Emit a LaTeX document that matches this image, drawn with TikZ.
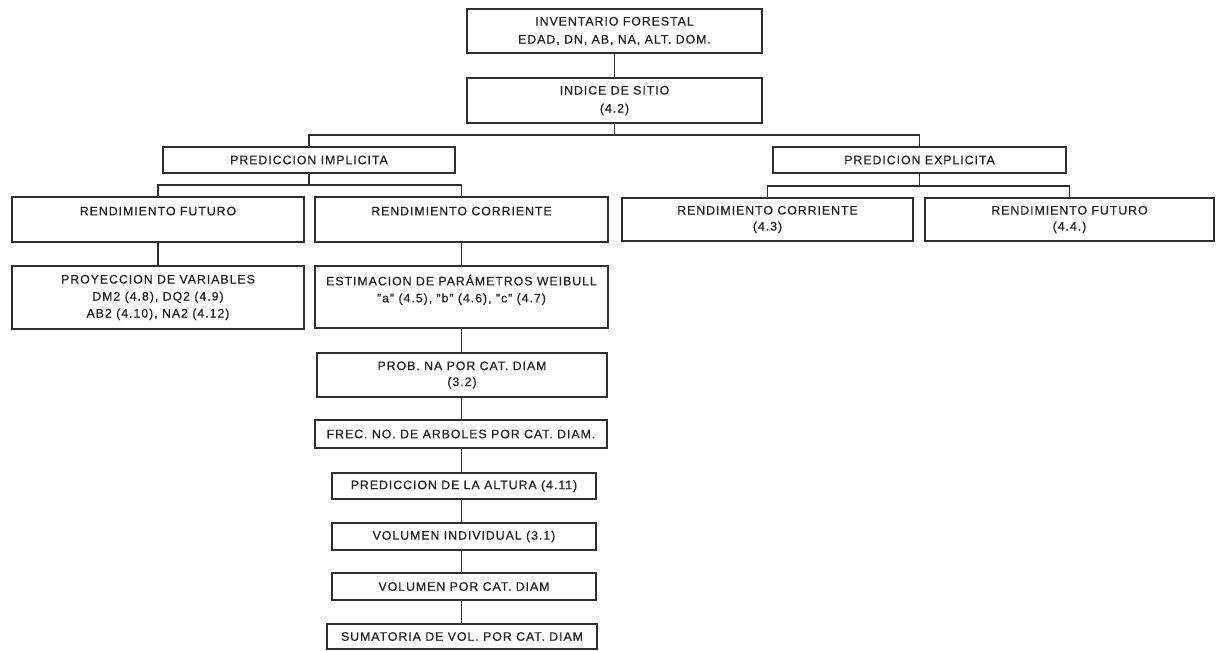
\documentclass[tikz,border=0pt]{standalone}
\usepackage{fontspec}
\setmainfont{Liberation Sans}[LetterSpace=8, FakeBold=0.5]
\definecolor{ink}{HTML}{2e2e2e}
\definecolor{txt}{HTML}{222222}
\begin{document}
\begin{tikzpicture}[x=1pt,y=-1pt,
  box/.style={draw=ink, line width=1.7pt, inner sep=0pt, align=center, text=txt,
    font=\fontsize{12.3}{17}\selectfont},
  link/.style={draw=ink, line width=1.6pt}]
\useasboundingbox[fill=white] (0,0) rectangle (1217,650);

\node[box, minimum width=295, minimum height=44, font=\fontsize{12.3}{18}\selectfont] (inv) at (614.5,31)
  {INVENTARIO FORESTAL\\EDAD, DN, AB, NA, ALT. DOM.};
\node[box, minimum width=295, minimum height=45, font=\fontsize{12.3}{18}\selectfont] (idx) at (614.5,100.5)
  {INDICE DE SITIO\\(4.2)};
\node[box, minimum width=292, minimum height=26] (pimp) at (309,160) {PREDICCION IMPLICITA};
\node[box, minimum width=293, minimum height=26] (pexp) at (919.5,160) {PREDICION EXPLICITA};

\node[box, minimum width=292, minimum height=45] (rf1) at (158,219.5) {RENDIMIENTO FUTURO\\\mbox{}};
\node[box, minimum width=293, minimum height=45] (rc1) at (461.5,219.5) {RENDIMIENTO CORRIENTE\\\mbox{}};
\node[box, minimum width=291, minimum height=43, font=\fontsize{12.3}{16}\selectfont] (rc2) at (767.5,219.5) {RENDIMIENTO CORRIENTE\\(4.3)};
\node[box, minimum width=289, minimum height=43, font=\fontsize{12.3}{16}\selectfont] (rf2) at (1069.5,219.5) {RENDIMIENTO FUTURO\\(4.4.)};

\node[box, minimum width=292, minimum height=63] (proy) at (158,297.5)
  {PROYECCION DE VARIABLES\\DM2 (4.8), DQ2 (4.9)\\AB2 (4.10), NA2 (4.12)};
\node[box, minimum width=293, minimum height=62] (est) at (461.5,297)
  {ESTIMACION DE PARÁMETROS WEIBULL\\"a" (4.5), "b" (4.6), "c" (4.7)\\\mbox{}};

\node[box, minimum width=290, minimum height=44, font=\fontsize{12.3}{16}\selectfont] (prob) at (462,375) {PROB. NA POR CAT. DIAM\\(3.2)};
\node[box, minimum width=292, minimum height=28] (frec) at (461,434) {FREC. NO. DE ARBOLES POR CAT. DIAM.};
\node[box, minimum width=264, minimum height=26] (alt) at (464,486) {PREDICCION DE LA ALTURA (4.11)};
\node[box, minimum width=264, minimum height=27] (vind) at (464,536.5) {VOLUMEN INDIVIDUAL (3.1)};
\node[box, minimum width=264, minimum height=27] (vcat) at (464,586.5) {VOLUMEN POR CAT. DIAM};
\node[box, minimum width=270, minimum height=25] (sum) at (462,636.5) {SUMATORIA DE VOL. POR CAT. DIAM};

\coordinate (j1) at (614.5,135);
\coordinate (j2) at (309,185);
\coordinate (j3) at (919.5,186);

\draw[link] (inv.south) -- (idx.north);
\draw[link] (idx.south) -- (j1);
\draw[link] (pimp.north) |- (j1) -| (pexp.north);
\draw[link] (pimp.south) -- (j2);
\draw[link] (rf1.north) |- (j2) -| (rc1.north);
\draw[link] (pexp.south) -- (j3);
\draw[link] (rc2.north) |- (j3) -| (rf2.north);
\draw[link] (rf1.south) -- (proy.north);
\draw[link] (rc1.south) -- (est.north);
\draw[link] (est.south) -- (est.south |- prob.north);
\draw[link] (prob.south -| est.south) -- (est.south |- frec.north);
\draw[link] (frec.south -| est.south) -- (est.south |- alt.north);
\draw[link] (alt.south -| est.south) -- (est.south |- vind.north);
\draw[link] (vind.south -| est.south) -- (est.south |- vcat.north);
\draw[link] (vcat.south -| est.south) -- (est.south |- sum.north);
\end{tikzpicture}
\end{document}
